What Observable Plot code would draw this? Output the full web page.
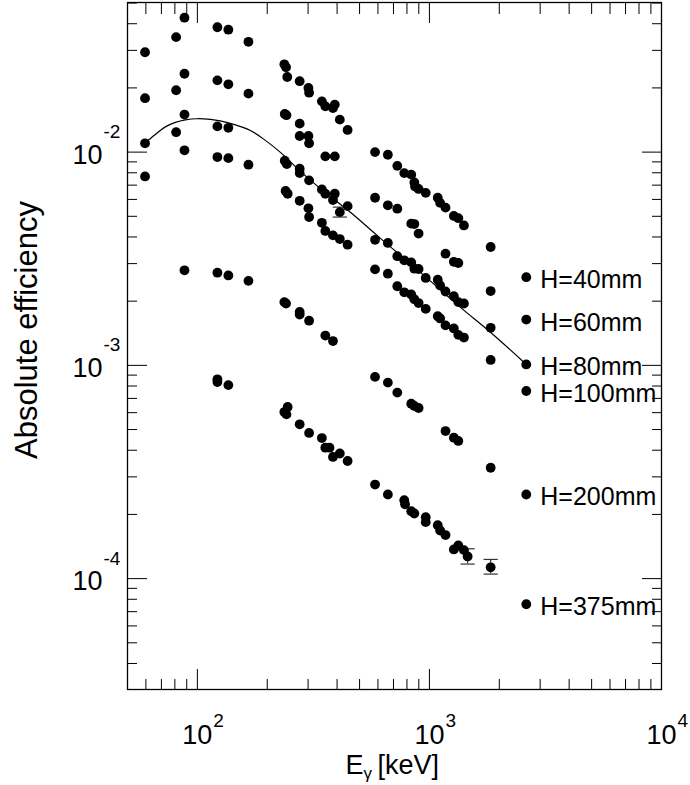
<!DOCTYPE html>
<html><head><meta charset="utf-8">
<script src="https://cdn.jsdelivr.net/npm/d3@7"></script>
<script src="https://cdn.jsdelivr.net/npm/@observablehq/plot@0.6"></script>
<style>body{margin:0;background:#fff} svg{font-family:"Liberation Sans",Arial,Helvetica,sans-serif}</style>
</head><body><div id="chart"></div>
<script>
// ---- data (energy in keV, absolute efficiency) ----
const seriesNames = ["H=40mm","H=60mm","H=80mm","H=100mm","H=200mm","H=375mm"];

const h40E   = [59.5,81,88,122,136,166,237,241,244,276,301,303,344,356,384,391,411,444,583,662,727,779,835,861,867,898,964,1086,1112,1173,1274,1332,1408,1836,2614];
const h40Eff = [0.0294,0.0346,0.0427,0.0385,0.0375,0.0329,0.0258,0.0250,0.0225,0.0215,0.0200,0.0190,0.0173,0.0164,0.0161,0.0167,0.0142,0.0127,0.0100,0.00972,0.00862,0.00797,0.00784,0.00721,0.00690,0.00672,0.00644,0.00611,0.00578,0.00549,0.00502,0.00490,0.00453,0.00359,0.00259];

const h60E   = [59.5,81,88,122,136,166,238,242,276,276,301,303,356,391,583,662,727,835,861,898,1173,1274,1332,1836,2614];
const h60Eff = [0.0179,0.0195,0.0233,0.0217,0.0208,0.0188,0.0151,0.0149,0.0136,0.0119,0.0119,0.0110,0.00955,0.00955,0.00611,0.00563,0.00543,0.00462,0.00460,0.00415,0.00334,0.00306,0.00302,0.00223,0.00164];

const h80E   = [59.5,81,88,122,136,238,243,276,276,303,344,356,384,391,411,444,583,662,727,779,835,861,898,964,1086,1112,1173,1274,1332,1408,1836,2614];
const h80Eff = [0.0110,0.0124,0.0150,0.0132,0.0130,0.00911,0.00878,0.00836,0.00797,0.00737,0.00668,0.00638,0.00596,0.00638,0.00523,0.00558,0.00388,0.00375,0.00325,0.00311,0.00304,0.00284,0.00283,0.00257,0.00252,0.00237,0.00222,0.00211,0.00198,0.00195,0.00150,0.00101];

const h100E   = [59.5,88,122,136,166,240,245,276,301,303,344,356,384,411,444,583,662,727,779,835,861,898,964,1086,1112,1173,1274,1332,1408,1836,2614];
const h100Eff = [0.00769,0.0102,0.00948,0.00937,0.00873,0.00657,0.00638,0.00591,0.00545,0.00496,0.00466,0.00427,0.00407,0.00391,0.00368,0.00282,0.00269,0.00235,0.00220,0.00215,0.00204,0.00196,0.00184,0.00170,0.00166,0.00154,0.00149,0.00139,0.00135,0.00106,0.000758];

const h200E   = [88,122,136,166,237,241,276,276,303,356,384,583,662,727,835,861,898,1173,1274,1332,1836,2614];
const h200Eff = [0.00279,0.00272,0.00264,0.00249,0.00198,0.00195,0.00178,0.00173,0.00162,0.00138,0.00130,0.000883,0.000830,0.000745,0.000661,0.000645,0.000631,0.000492,0.000458,0.000442,0.000331,0.000248];

const h375E   = [122,122,136,237,242,245,276,303,344,356,371,384,411,444,583,662,779,785,835,861,964,964,1086,1112,1173,1274,1332,1408,1461,1836,2614];
const h375Eff = [0.000860,0.000835,0.000808,0.000604,0.000589,0.000638,0.000529,0.000482,0.000456,0.000411,0.000411,0.000372,0.000386,0.000356,0.000276,0.000248,0.000233,0.000223,0.000207,0.000202,0.000194,0.000184,0.000178,0.000168,0.000160,0.000137,0.000143,0.000136,0.000127,0.000113,0.0000758];

// error bars (energy, low, high)
const errE    = [411,1461,1836];
const errLow  = [0.00496,0.000117,0.000105];
const errHigh = [0.00552,0.000138,0.000123];

// fitted curve for H=80mm
const fitE   = [59.3,65.9,72.8,80.4,88.8,99.7,113.8,125.6,145.8,169.2,196.4,228,278,339,456.5,615,914.7,1360,1832,2614];
const fitEff = [0.0110,0.0121,0.01313,0.01378,0.01416,0.01434,0.01423,0.0140,0.01341,0.01264,0.01135,0.00997,0.00812,0.00674,0.00522,0.00394,0.00273,0.00187,0.00143,0.00101];

// ticks
const xMajor = [100,1000,10000];
const xExp = ["2","3","4"];
const xMinor = [60,70,80,90,200,300,400,500,600,700,800,900,2000,3000,4000,5000,6000,7000,8000,9000];
const yMajor = [1e-4,1e-3,1e-2];
const yExp = ["-4","-3","-2"];
const yMinor = [4e-5,5e-5,6e-5,7e-5,8e-5,9e-5,2e-4,3e-4,4e-4,5e-4,6e-4,7e-4,8e-4,9e-4,2e-3,3e-3,4e-3,5e-3,6e-3,7e-3,8e-3,9e-3,2e-2,3e-2,4e-2,5e-2];

// ---- build tables ----
const allE = [h40E,h60E,h80E,h100E,h200E,h375E];
const allEff = [h40Eff,h60Eff,h80Eff,h100Eff,h200Eff,h375Eff];
const points = [];
const labels = [];
allE.forEach((es, s) => {
  es.forEach((e, i) => points.push({series: seriesNames[s], E: e, eff: allEff[s][i]}));
  labels.push({series: seriesNames[s], E: es[es.length-1], eff: allEff[s][es.length-1]});
});
const errs = errE.map((e,i) => ({E: e, lo: errLow[i], hi: errHigh[i]}));
const fit = fitE.map((e,i) => ({E: e, eff: fitEff[i]}));

const capSymbol = {draw(context, size) { const w = Math.sqrt(size); context.moveTo(-w, 0); context.lineTo(w, 0); }};

const font = "Liberation Sans, Arial, Helvetica, sans-serif";
const tickOpts = {tickFormat: () => "", label: null, stroke: "black", strokeWidth: 1};
const txt = {fill: "black", lineAnchor: "middle"};

const chart = Plot.plot({
  width: 690, height: 785,
  marginLeft: 127, marginRight: 29, marginTop: 2, marginBottom: 96,
  style: {fontFamily: font, background: "white", color: "black"},
  x: {type: "log", domain: [50, 10000]},
  y: {type: "log", domain: [3.02e-5, 0.0503]},
  marks: [
    Plot.axisX(xMajor, {anchor: "bottom", tickSize: -20, ...tickOpts}),
    Plot.axisX(xMinor, {anchor: "bottom", tickSize: -10, ...tickOpts}),
    Plot.axisX(xMajor, {anchor: "top", tickSize: -20, ...tickOpts}),
    Plot.axisX(xMinor, {anchor: "top", tickSize: -11, ...tickOpts}),
    Plot.axisY(yMajor, {anchor: "left", tickSize: -20, ...tickOpts}),
    Plot.axisY(yMinor, {anchor: "left", tickSize: -10, ...tickOpts}),
    Plot.axisY(yMajor, {anchor: "right", tickSize: -20, ...tickOpts}),
    Plot.axisY(yMinor, {anchor: "right", tickSize: -10, ...tickOpts}),
    Plot.frame({stroke: "black", strokeWidth: 1.3}),
    // tick labels
    Plot.text(yMajor, {y: d => d, frameAnchor: "left", text: () => "10", textAnchor: "end", dx: -25, dy: 3, fontSize: 27, ...txt}),
    Plot.text(yMajor, {y: d => d, frameAnchor: "left", text: (d, i) => yExp[i], textAnchor: "start", dx: -24, dy: -20, fontSize: 19, ...txt}),
    Plot.text(xMajor, {x: d => d, frameAnchor: "bottom", text: () => "10", textAnchor: "middle", dy: 46, fontSize: 27, ...txt}),
    Plot.text(xMajor, {x: d => d, frameAnchor: "bottom", text: (d, i) => xExp[i], textAnchor: "start", dx: 16, dy: 31, fontSize: 19, ...txt}),
    // axis titles
    Plot.text(["Absolute efficiency"], {frameAnchor: "left", text: d => d, rotate: -90, textAnchor: "middle", dx: -100, dy: -16, fontSize: 31, ...txt}),
    Plot.text(["E"], {frameAnchor: "bottom", text: d => d, textAnchor: "start", dx: -49, dy: 76, fontSize: 27, ...txt}),
    Plot.text(["γ"], {frameAnchor: "bottom", text: d => d, textAnchor: "start", dx: -31, dy: 84, fontSize: 17, ...txt}),
    Plot.text(["[keV]"], {frameAnchor: "bottom", text: d => d, textAnchor: "start", dx: -17, dy: 76, fontSize: 27, ...txt}),
    // fit curve
    Plot.line(fit, {x: "E", y: "eff", curve: "catmull-rom", stroke: "black", strokeWidth: 1.2}),
    // error bars
    Plot.ruleX(errs, {x: "E", y1: "lo", y2: "hi", stroke: "#333", strokeWidth: 1.2}),
    Plot.dot(errs, {x: "E", y: "lo", symbol: capSymbol, r: 4, stroke: "#333", strokeWidth: 1.2}),
    Plot.dot(errs, {x: "E", y: "hi", symbol: capSymbol, r: 4, stroke: "#333", strokeWidth: 1.2}),
    // data points
    Plot.dot(points, {x: "E", y: "eff", r: 4.9, fill: "black", stroke: null}),
    // series labels
    Plot.text(labels, {x: "E", y: "eff", text: "series", textAnchor: "start", dx: 14, dy: 3, fontSize: 25, ...txt})
  ]
});
document.getElementById("chart").appendChild(chart);
</script>
</body></html>
